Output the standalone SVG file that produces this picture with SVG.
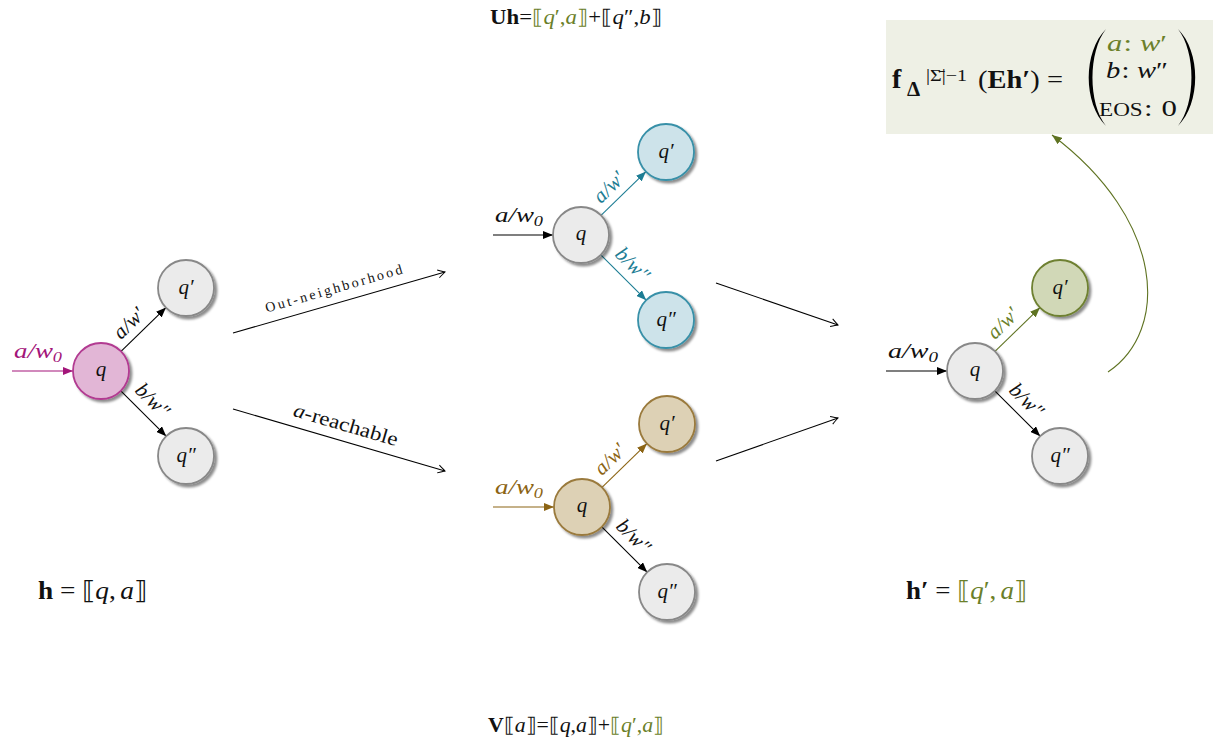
<svg xmlns="http://www.w3.org/2000/svg" width="1225" height="741" viewBox="0 0 1225 741">
<defs>
<style>
text{font-family:"Liberation Serif","DejaVu Serif",serif;fill:#111}
.m{font-style:italic}
.nl{font-size:21px;font-style:italic;text-anchor:middle}
.el{font-size:21px;font-style:italic;text-anchor:middle}
.il{font-size:22px;font-style:italic;text-anchor:middle}
.n{stroke-width:1.8;filter:url(#sh)}
.gray{fill:#ebebeb;stroke:#888}
.mag{fill:#e2b6d6;stroke:#b23a91}
.teal{fill:#cde3ea;stroke:#3790a8}
.brn{fill:#ddd1b5;stroke:#9a7a3c}
.grn{fill:#d1d8b7;stroke:#6e8030}
.e{fill:none;stroke-width:1.1}
.ck{stroke:#000}.cm{stroke:#a3157a}.ct{stroke:#1d7d94}.cb{stroke:#8c6414}.cg{stroke:#5f7322}
.tm{fill:#a3157a}.tt{fill:#1d7d94}.tb{fill:#8c6414}.tg{fill:#6b7f2a}
</style>
<filter id="sh" x="-30%" y="-30%" width="170%" height="170%"><feDropShadow dx="2.5" dy="2.5" stdDeviation="1.3" flood-color="#000" flood-opacity="0.45"/></filter>
<marker id="ak" viewBox="0 0 10 8" refX="10" refY="4" markerWidth="10" markerHeight="8" markerUnits="userSpaceOnUse" orient="auto"><path d="M0,0 L10,4 L0,8 Z" fill="#000"/></marker>
<marker id="am" viewBox="0 0 10 8" refX="10" refY="4" markerWidth="10" markerHeight="8" markerUnits="userSpaceOnUse" orient="auto"><path d="M0,0 L10,4 L0,8 Z" fill="#a3157a"/></marker>
<marker id="at" viewBox="0 0 10 8" refX="10" refY="4" markerWidth="10" markerHeight="8" markerUnits="userSpaceOnUse" orient="auto"><path d="M0,0 L10,4 L0,8 Z" fill="#1d7d94"/></marker>
<marker id="ab" viewBox="0 0 10 8" refX="10" refY="4" markerWidth="10" markerHeight="8" markerUnits="userSpaceOnUse" orient="auto"><path d="M0,0 L10,4 L0,8 Z" fill="#8c6414"/></marker>
<marker id="ag" viewBox="0 0 10 8" refX="10" refY="4" markerWidth="10" markerHeight="8" markerUnits="userSpaceOnUse" orient="auto"><path d="M0,0 L10,4 L0,8 Z" fill="#5f7322"/></marker>
<marker id="op" viewBox="-9 -5 10 10" refX="0" refY="0" markerWidth="10" markerHeight="10" markerUnits="userSpaceOnUse" orient="auto"><path d="M-7,-4 Q-2,-1 0,0 Q-2,1 -7,4" fill="none" stroke="#000" stroke-width="1"/></marker>
</defs>
<rect width="1225" height="741" fill="#fff"/>

<!-- Left automaton -->
<g id="left" transform="translate(101,371)">
  <g id="L-conn">
    <line class="e cm" x1="-89" y1="0" x2="-28" y2="0" marker-end="url(#am)"/>
    <line class="e ck" x1="20" y1="-19.6" x2="65" y2="-63.4" marker-end="url(#ak)"/>
    <line class="e ck" x1="19.8" y1="19.8" x2="65.2" y2="65.2" marker-end="url(#ak)"/>
    <text class="il tm" x="-63" y="-13" textLength="48" lengthAdjust="spacingAndGlyphs">a/w<tspan font-size="15" dy="4">0</tspan></text>
    <text class="el" transform="translate(42.5,-41.5) rotate(-44.3)" x="-6" y="-8">a/w′</text>
    <text class="el" transform="translate(42.5,42.5) rotate(45)" x="-3" y="-9">b/w″</text>
  </g>
  <g id="L-q"><circle class="n mag" cx="0" cy="0" r="28"/><text class="nl" x="0" y="5">q</text></g>
  <g id="L-q1"><circle class="n gray" cx="85" cy="-83" r="28"/><text class="nl" x="85" y="-77">q′</text></g>
  <g id="L-q2"><circle class="n gray" cx="85" cy="85" r="28"/><text class="nl" x="85" y="91">q″</text></g>
</g>

<!-- Middle top automaton -->
<g id="midtop" transform="translate(581,235)">
  <g id="MT-conn">
    <line class="e ck" x1="-88" y1="0" x2="-28" y2="0" marker-end="url(#ak)"/>
    <line class="e ct" x1="20" y1="-19.6" x2="65" y2="-63.4" marker-end="url(#at)"/>
    <line class="e ct" x1="19.8" y1="19.8" x2="65.2" y2="65.2" marker-end="url(#at)"/>
    <text class="il" x="-62" y="-13" textLength="48" lengthAdjust="spacingAndGlyphs">a/w<tspan font-size="15" dy="4">0</tspan></text>
    <text class="el tt" transform="translate(42.5,-41.5) rotate(-44.3)" x="-6" y="-8">a/w′</text>
    <text class="el tt" transform="translate(42.5,42.5) rotate(45)" x="-3" y="-9">b/w″</text>
  </g>
  <g id="MT-q"><circle class="n gray" cx="0" cy="0" r="28"/><text class="nl" x="0" y="5">q</text></g>
  <g id="MT-q1"><circle class="n teal" cx="85" cy="-83" r="28"/><text class="nl" x="85" y="-77">q′</text></g>
  <g id="MT-q2"><circle class="n teal" cx="85" cy="85" r="28"/><text class="nl" x="85" y="91">q″</text></g>
</g>

<!-- Middle bottom automaton -->
<g id="midbot" transform="translate(582,507)">
  <g id="MB-conn">
    <line class="e cb" x1="-89" y1="0" x2="-28" y2="0" marker-end="url(#ab)"/>
    <line class="e cb" x1="20" y1="-19.6" x2="65" y2="-63.4" marker-end="url(#ab)"/>
    <line class="e ck" x1="19.8" y1="19.8" x2="65.2" y2="65.2" marker-end="url(#ak)"/>
    <text class="il tb" x="-63" y="-13" textLength="48" lengthAdjust="spacingAndGlyphs">a/w<tspan font-size="15" dy="4">0</tspan></text>
    <text class="el tb" transform="translate(42.5,-41.5) rotate(-44.3)" x="-6" y="-8">a/w′</text>
    <text class="el" transform="translate(42.5,42.5) rotate(45)" x="-3" y="-9">b/w″</text>
  </g>
  <g id="MB-q"><circle class="n brn" cx="0" cy="0" r="28"/><text class="nl" x="0" y="5">q</text></g>
  <g id="MB-q1"><circle class="n brn" cx="85" cy="-83" r="28"/><text class="nl" x="85" y="-77">q′</text></g>
  <g id="MB-q2"><circle class="n gray" cx="85" cy="85" r="28"/><text class="nl" x="85" y="91">q″</text></g>
</g>

<!-- Right automaton -->
<g id="right" transform="translate(975,371)">
  <g id="R-conn">
    <line class="e ck" x1="-89" y1="0" x2="-28" y2="0" marker-end="url(#ak)"/>
    <line class="e cg" x1="20" y1="-19.6" x2="65" y2="-63.4" marker-end="url(#ag)"/>
    <line class="e ck" x1="19.8" y1="19.8" x2="65.2" y2="65.2" marker-end="url(#ak)"/>
    <text class="il" x="-62" y="-13" textLength="50" lengthAdjust="spacingAndGlyphs">a/w<tspan font-size="15" dy="4">0</tspan></text>
    <text class="el tg" transform="translate(42.5,-41.5) rotate(-44.3)" x="-6" y="-8">a/w′</text>
    <text class="el" transform="translate(42.5,42.5) rotate(45)" x="-3" y="-9">b/w″</text>
  </g>
  <g id="R-q"><circle class="n gray" cx="0" cy="0" r="28"/><text class="nl" x="0" y="5">q</text></g>
  <g id="R-q1"><circle class="n grn" cx="85" cy="-83" r="28"/><text class="nl" x="85" y="-77">q′</text></g>
  <g id="R-q2"><circle class="n gray" cx="85" cy="85" r="28"/><text class="nl" x="85" y="91">q″</text></g>
</g>

<!-- Big connectors -->
<g id="connectors">
  <line class="e ck" x1="233" y1="333" x2="445" y2="272" marker-end="url(#op)"/>
  <line class="e ck" x1="233" y1="409" x2="445" y2="471" marker-end="url(#op)"/>
  <line class="e ck" x1="716" y1="283" x2="838" y2="325" marker-end="url(#op)"/>
  <line class="e ck" x1="716" y1="461" x2="838" y2="418" marker-end="url(#op)"/>
  <path class="e cg" d="M1108,372 C1170,330 1165,220 1052,135" marker-end="url(#ag)"/>
  <text transform="translate(335,293) rotate(-16)" text-anchor="middle" font-size="14" textLength="142" lengthAdjust="spacing">Out-neighborhood</text>
  <text transform="translate(344,431) rotate(16.3)" text-anchor="middle" font-size="20" textLength="108" lengthAdjust="spacingAndGlyphs"><tspan class="m">a</tspan>-reachable</text>
</g>

<!-- Output box -->
<g id="output">
  <rect x="886" y="20" width="327" height="114" fill="#eef0e5"/>
  <text x="892" y="88" font-size="28" font-weight="bold">f</text>
  <text x="907" y="96" font-size="21" font-weight="bold">Δ</text>
  <text x="926" y="81" font-size="16" textLength="41" lengthAdjust="spacingAndGlyphs">|Σ̄|−1</text>
  <text x="978" y="88" font-size="26" textLength="85" lengthAdjust="spacingAndGlyphs">(<tspan font-weight="bold">Eh′</tspan>) =</text>
  <path d="M1106,29 C1083,52 1083,103 1106,126 C1088,103 1088,52 1106,29 Z" fill="#000"/>
  <path d="M1178,29 C1201,52 1201,103 1178,126 C1196,103 1196,52 1178,29 Z" fill="#000"/>
  <text x="1137" y="51" font-size="23" text-anchor="middle" class="tg" textLength="60" lengthAdjust="spacingAndGlyphs"><tspan class="m">a</tspan><tspan dx="1">:</tspan><tspan class="m" dx="6">w</tspan>′</text>
  <text x="1137" y="78" font-size="23" text-anchor="middle" textLength="62" lengthAdjust="spacingAndGlyphs"><tspan class="m">b</tspan><tspan dx="1">:</tspan><tspan class="m" dx="6">w</tspan>″</text>
  <text x="1138" y="116" font-size="24" text-anchor="middle" textLength="78" lengthAdjust="spacingAndGlyphs"><tspan font-size="18">EOS</tspan><tspan dx="1">:</tspan><tspan dx="7">0</tspan></text>
</g>

<!-- Equations -->
<g id="equations">
  <text x="490" y="24" font-size="20" textLength="172" lengthAdjust="spacingAndGlyphs"><tspan font-weight="bold">Uh</tspan>=<tspan class="tg">⟦<tspan class="m">q</tspan>′,<tspan class="m">a</tspan>⟧</tspan>+⟦<tspan class="m">q</tspan>″,<tspan class="m">b</tspan>⟧</text>
  <text x="488" y="732" font-size="20" textLength="176" lengthAdjust="spacingAndGlyphs"><tspan font-weight="bold">V</tspan>⟦<tspan class="m">a</tspan>⟧=⟦<tspan class="m">q</tspan>,<tspan class="m">a</tspan>⟧+<tspan class="tg">⟦<tspan class="m">q</tspan>′,<tspan class="m">a</tspan>⟧</tspan></text>
  <text x="38" y="599" font-size="25" textLength="109" lengthAdjust="spacingAndGlyphs"><tspan font-weight="bold">h</tspan> = ⟦<tspan class="m">q</tspan>,<tspan class="m" dx="4">a</tspan>⟧</text>
  <text x="906" y="599" font-size="25" textLength="121" lengthAdjust="spacingAndGlyphs"><tspan font-weight="bold">h′</tspan> = <tspan class="tg">⟦<tspan class="m">q</tspan>′,<tspan class="m" dx="4">a</tspan>⟧</tspan></text>
</g>
</svg>
